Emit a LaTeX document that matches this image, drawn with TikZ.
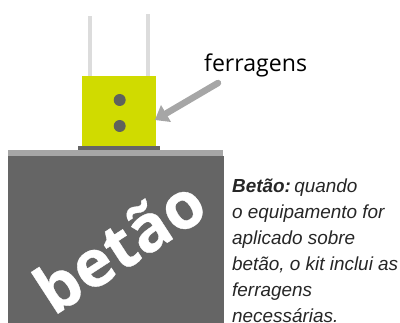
\documentclass[tikz,border=0pt]{standalone}
\usepackage{fontspec}
\setmainfont{Liberation Sans}
\newfontfamily\labelfont{Open Sans}
\newfontfamily\heavyfont[BoldFeatures={FakeBold=0.5}]{Open Sans}
\usetikzlibrary{arrows.meta,calc}
\definecolor{post}{HTML}{DCDCDC}
\definecolor{yel}{HTML}{D0DB00}
\definecolor{dk}{HTML}{656565}
\definecolor{bar}{HTML}{A6A6A6}
\definecolor{dot}{HTML}{5F625B}
\definecolor{txt}{HTML}{262626}
\tikzset{
  fillbox/.style={fill=#1,draw=none},
  infoline/.style={anchor=base west,inner sep=0pt,font=\fontsize{18.9}{18.9}\selectfont\itshape,text=txt},
  boltdot/.style={circle,fill=dot,draw=none,minimum size=12pt,inner sep=0pt},
}
\begin{document}
\begin{tikzpicture}[x=1pt,y=-1pt]
\useasboundingbox (0,0) rectangle (400,323);
\clip (0,0) rectangle (400,323);
\fill[post] (88,16) rectangle (92,76);
\fill[post] (146,14) rectangle (150,76);
\fill[dk] (8,156) rectangle (224,323);
\fill[bar] (8,150) rectangle (223,156);
\fill[dk] (78,146) rectangle (160,150);
\node[fillbox=yel,minimum width=74pt,minimum height=70pt,inner sep=0pt] (box) at (119,111) {};
\node[boltdot] (b1) at (119.7,100) {};
\node[boltdot] (b2) at (119.7,126) {};
\coordinate (tail) at (218,83);
\coordinate (tip) at (155,120);
\draw[bar,line width=6.5pt,line cap=round] (tail) -- ($(tail)!0.82!(tip)$);
\fill[bar] (tip) -- (161,105) -- (171,122) -- cycle;
\node[anchor=base west,inner sep=0pt,font=\labelfont\fontsize{23.1}{23.1}\selectfont,text=black] (lab) at (204,72) {ferragens};
\node[rotate=33,inner sep=0pt,text=white,font=\heavyfont\bfseries\fontsize{65}{65}\selectfont] (bet) at (119,245) {betão};
\node[infoline] (l1) at (232,193) {\textbf{Betão:}\kern-2pt\ quando};
\node[infoline] (l2) at (232,219) {o equipamento for};
\node[infoline] (l3) at (232,245) {aplicado sobre};
\node[infoline] (l4) at (232,271) {betão, o kit inclui as};
\node[infoline] (l5) at (232,297) {ferragens};
\node[infoline] (l6) at (232,323) {necessárias.};
\end{tikzpicture}
\end{document}
